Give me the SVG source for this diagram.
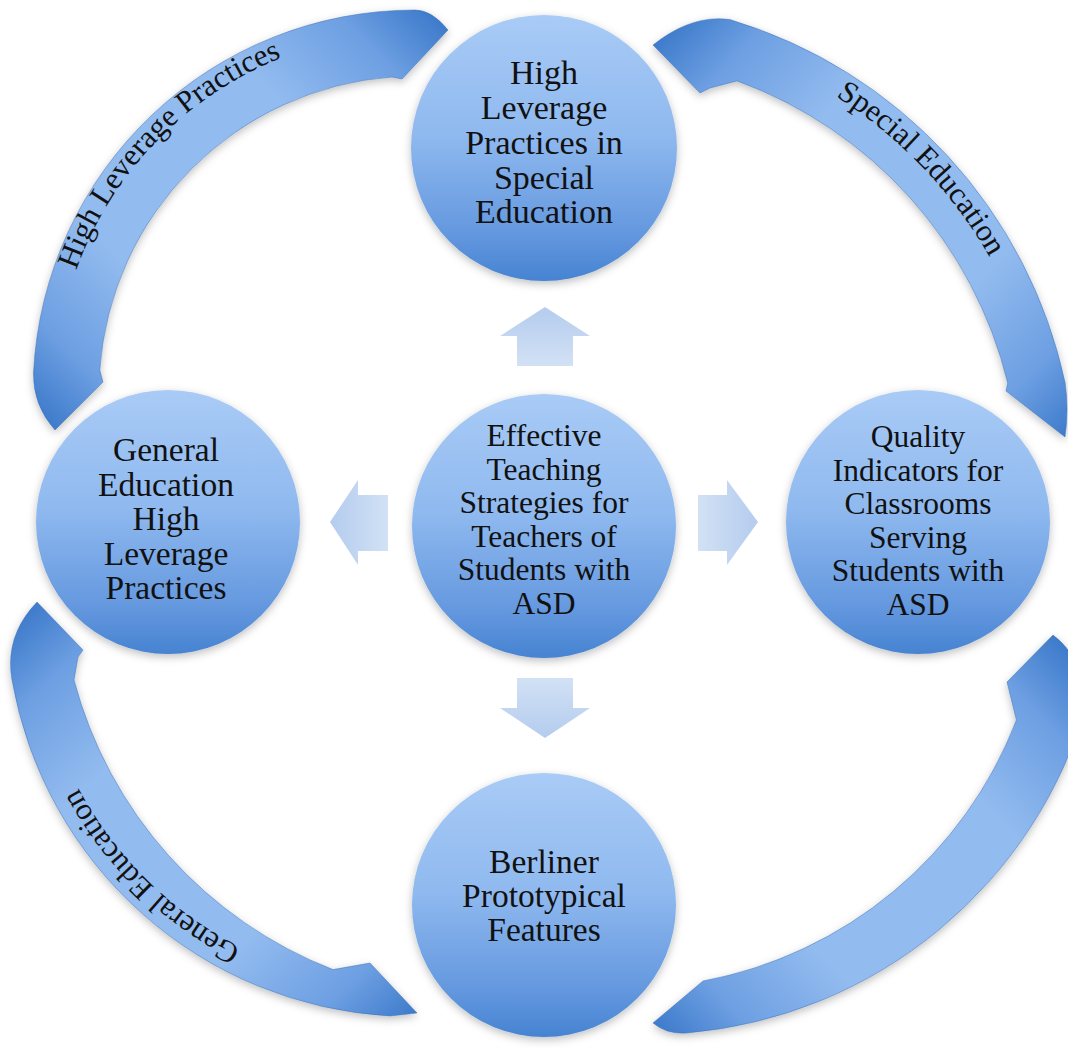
<svg xmlns="http://www.w3.org/2000/svg" width="1068" height="1048" viewBox="0 0 1068 1048">
<defs>
<linearGradient id="gNode" x1="0" y1="0" x2="0" y2="1">
<stop offset="0" stop-color="#a9cbf6"/><stop offset="0.45" stop-color="#8fb9ef"/><stop offset="0.82" stop-color="#6498df"/><stop offset="1" stop-color="#4683d1"/>
</linearGradient>
<linearGradient id="gTL" gradientUnits="userSpaceOnUse" x1="55" y1="430" x2="448" y2="30">
<stop offset="0" stop-color="#3e7bcb"/><stop offset="0.12" stop-color="#6d9fe2"/><stop offset="0.3" stop-color="#92bbef"/><stop offset="0.7" stop-color="#92bbef"/><stop offset="0.88" stop-color="#6d9fe2"/><stop offset="1" stop-color="#3e7bcb"/>
</linearGradient>
<linearGradient id="gTR" gradientUnits="userSpaceOnUse" x1="653" y1="45" x2="1065" y2="437">
<stop offset="0" stop-color="#3e7bcb"/><stop offset="0.12" stop-color="#6d9fe2"/><stop offset="0.3" stop-color="#92bbef"/><stop offset="0.7" stop-color="#92bbef"/><stop offset="0.88" stop-color="#6d9fe2"/><stop offset="1" stop-color="#3e7bcb"/>
</linearGradient>
<linearGradient id="gBL" gradientUnits="userSpaceOnUse" x1="37" y1="602" x2="417" y2="1013">
<stop offset="0" stop-color="#3e7bcb"/><stop offset="0.12" stop-color="#6d9fe2"/><stop offset="0.3" stop-color="#92bbef"/><stop offset="0.7" stop-color="#92bbef"/><stop offset="0.88" stop-color="#6d9fe2"/><stop offset="1" stop-color="#3e7bcb"/>
</linearGradient>
<linearGradient id="gBR" gradientUnits="userSpaceOnUse" x1="1053" y1="635" x2="653" y2="1023">
<stop offset="0" stop-color="#3e7bcb"/><stop offset="0.12" stop-color="#6d9fe2"/><stop offset="0.3" stop-color="#92bbef"/><stop offset="0.7" stop-color="#92bbef"/><stop offset="0.88" stop-color="#6d9fe2"/><stop offset="1" stop-color="#3e7bcb"/>
</linearGradient>
<linearGradient id="gUp" x1="0" y1="0" x2="0" y2="1"><stop offset="0" stop-color="#b4ccee"/><stop offset="1" stop-color="#d2e1f5"/></linearGradient>
<linearGradient id="gDown" x1="0" y1="1" x2="0" y2="0"><stop offset="0" stop-color="#b4ccee"/><stop offset="1" stop-color="#d2e1f5"/></linearGradient>
<linearGradient id="gLeft" x1="0" y1="0" x2="1" y2="0"><stop offset="0" stop-color="#b4ccee"/><stop offset="1" stop-color="#d2e1f5"/></linearGradient>
<linearGradient id="gRight" x1="1" y1="0" x2="0" y2="0"><stop offset="0" stop-color="#b4ccee"/><stop offset="1" stop-color="#d2e1f5"/></linearGradient>
<filter id="shadow" x="-15%" y="-15%" width="130%" height="135%">
<feDropShadow dx="0" dy="3" stdDeviation="4" flood-color="#000" flood-opacity="0.25"/>
</filter>
<path id="tpTL" d="M 68.9,491.2 A 360 360 0 0 1 502.1,42.7"/>
<path id="tpTR" d="M 481.1,38.1 A 460 460 0 0 1 1031.5,614.1"/>
<path id="tpBL" d="M 514.3,975.2 A 379 379 0 0 1 46.1,515.1"/>
</defs>
<style>
.node{fill:url(#gNode);filter:url(#shadow)}
.lbl{font-family:"Liberation Serif","Times New Roman",serif;font-size:31.5px;fill:#111;text-anchor:middle}
.lg{font-size:33.5px}
.xl{font-size:34px}
.arc{stroke:#3b6fb6;stroke-width:0.8;stroke-opacity:0.6;filter:url(#shadow)}
.arctxt{font-family:"Liberation Serif","Times New Roman",serif;font-size:31px;fill:#111}
</style>
<rect width="1068" height="1048" fill="#ffffff"/>

<g id="arc-high-leverage">
<path class="arc" fill="url(#gTL)" d="M 55,430 Q 32.5,405 33.5,372 A 382 382 0 0 1 415,10 Q 432,10 448,30 L 402,79 L 392,77 A 316 316 0 0 0 99.8,370 L 103,382 Z"/>
<text class="arctxt"><textPath href="#tpTL" startOffset="50%" text-anchor="middle">High Leverage Practices</textPath></text>
</g>
<g id="arc-special-education">
<path class="arc" fill="url(#gTR)" d="M 653,45 Q 692,14 730,19.6 A 486 486 0 0 1 1065.2,383 Q 1069,410 1065,437 L 1006,391 L 1007.7,383 A 430 430 0 0 0 737,80.9 L 710,88 L 700,93 Z"/>
<text class="arctxt"><textPath href="#tpTR" startOffset="50%" text-anchor="middle">Special Education</textPath></text>
</g>
<g id="arc-general-education">
<path class="arc" fill="url(#gBL)" d="M 37,602 Q 4.3,636 12,680 A 407 407 0 0 0 390,1016 L 417,1013 L 370,963 L 333,969.6 A 429 429 0 0 1 74,680 L 78,657 L 83,650 Z"/>
<text class="arctxt"><textPath href="#tpBL" startOffset="50%" text-anchor="middle">General Education</textPath></text>
</g>
<g id="arc-bottom-right">
<path class="arc" fill="url(#gBR)" d="M 1053,635 Q 1080,655 1088,700 A 457 457 0 0 1 687,1033 Q 667,1034.7 653,1023 L 703,981 A 418 418 0 0 0 1016.4,720 L 1009,690 L 1007,682 Z"/>
</g>

<g id="connectors">
<polygon fill="url(#gUp)" points="545,307 590,336 573,336 573,366 517,366 517,336 500,336"/>
<polygon fill="url(#gDown)" points="517,678 573,678 573,708 590,708 545,738 500,708 517,708"/>
<polygon fill="url(#gLeft)" points="330,522 358,480 358,495 388,495 388,551 358,551 358,565"/>
<polygon fill="url(#gRight)" points="698,495 727,495 727,480 758,522 727,565 727,551 698,551"/>
</g>

<g id="node-top">
<circle class="node" cx="544" cy="148" r="133"/>
<text class="lbl xl" x="544" y="84">High</text>
<text class="lbl xl" x="544" y="119">Leverage</text>
<text class="lbl xl" x="544" y="154">Practices in</text>
<text class="lbl xl" x="544" y="188.5">Special</text>
<text class="lbl xl" x="544" y="223">Education</text>
</g>
<g id="node-center">
<circle class="node" cx="544" cy="526" r="132"/>
<text class="lbl" x="544" y="446">Effective</text>
<text class="lbl" x="544" y="479.5">Teaching</text>
<text class="lbl" x="544" y="513">Strategies for</text>
<text class="lbl" x="544" y="546.5">Teachers of</text>
<text class="lbl" x="544" y="580">Students with</text>
<text class="lbl" x="544" y="613.5">ASD</text>
</g>
<g id="node-left">
<circle class="node" cx="168" cy="522" r="132"/>
<text class="lbl lg" x="166" y="461">General</text>
<text class="lbl lg" x="166" y="495.5">Education</text>
<text class="lbl lg" x="166" y="530">High</text>
<text class="lbl lg" x="166" y="564.5">Leverage</text>
<text class="lbl lg" x="166" y="599">Practices</text>
</g>
<g id="node-right">
<circle class="node" cx="918" cy="522" r="132"/>
<text class="lbl" x="918" y="447">Quality</text>
<text class="lbl" x="918" y="480.5">Indicators for</text>
<text class="lbl" x="918" y="514">Classrooms</text>
<text class="lbl" x="918" y="547.5">Serving</text>
<text class="lbl" x="918" y="581">Students with</text>
<text class="lbl" x="918" y="614.5">ASD</text>
</g>
<g id="node-bottom">
<circle class="node" cx="544" cy="905" r="132"/>
<text class="lbl lg" x="544" y="873">Berliner</text>
<text class="lbl lg" x="544" y="907">Prototypical</text>
<text class="lbl lg" x="544" y="941">Features</text>
</g>
</svg>
